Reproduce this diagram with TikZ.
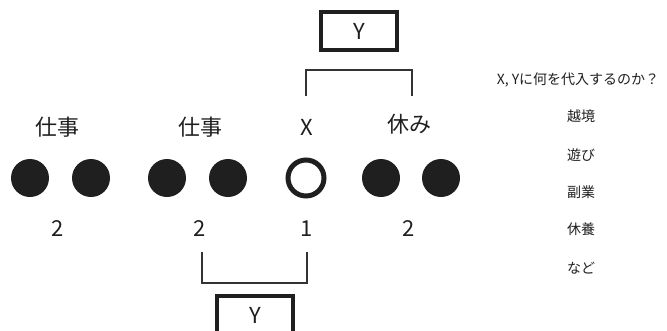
\documentclass[tikz,border=0pt]{standalone}
\usepackage{fontspec}
\setmainfont{Noto Sans CJK JP}
\begin{document}
\begin{tikzpicture}[x=1pt,y=-1pt,
  dot/.style={circle,fill=black!88,minimum size=38pt,inner sep=0pt},
  opendot/.style={circle,draw=black!88,line width=5pt,minimum size=36pt,inner sep=0pt},
  lbl/.style={font=\fontsize{22}{25}\selectfont,text=black!88,inner sep=0pt},
  small/.style={font=\fontsize{14}{16}\selectfont,text=black!88,inner sep=0pt},
  ybox/.style={draw=black!88,line width=4pt,minimum width=76pt,minimum height=38pt,inner sep=0pt,font=\fontsize{22}{25}\selectfont,text=black!88},
  brk/.style={draw=black!80,line width=1.1pt}]
\useasboundingbox (0,0) rectangle (667,330);
% circles
\node[dot] (c1) at (30,178) {};
\node[dot] (c2) at (91,178) {};
\node[dot] (c3) at (167,178) {};
\node[dot] (c4) at (228,178) {};
\node[opendot] (c5) at (306,178) {};
\node[dot] (c6) at (381,178) {};
\node[dot] (c7) at (441,178) {};
% labels
\node[lbl] (l1) at (57,127) {仕事};
\node[lbl] (l2) at (200,127) {仕事};
\node[lbl] (l3) at (307,127) {X};
\node[lbl] (l4) at (409,124) {休み};
\node[lbl] (n1) at (58,229) {2};
\node[lbl] (n2) at (200,229) {2};
\node[lbl] (n3) at (307,229) {1};
\node[lbl] (n4) at (409,229) {2};
% top box and bracket
\node[ybox] (ytop) at (359,31) {Y};
\coordinate (ta) at (306,96);
\coordinate (tb) at (412,96);
\draw[brk] (ta) -- ++(0,-26) -| (tb);
% bottom bracket and box
\coordinate (ba) at (202,252);
\coordinate (bb) at (307,252);
\draw[brk] (ba) -- ++(0,31) -| (bb);
\node[ybox,anchor=north] (ybot) at (255,294) {Y};
% right text
\node[small] (q) at (578,80) {X, Yに何を代入するのか？};
\node[small] (i1) at (581,116) {越境};
\node[small] (i2) at (581,155) {遊び};
\node[small] (i3) at (581,192) {副業};
\node[small] (i4) at (581,229) {休養};
\node[small] (i5) at (581,268) {など};
\end{tikzpicture}
\end{document}
